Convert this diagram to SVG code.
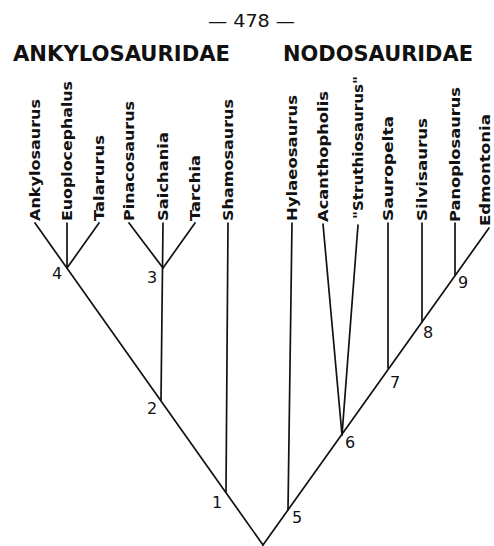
<svg xmlns="http://www.w3.org/2000/svg" width="494" height="546" viewBox="0 0 494 546">
<style>
.bg{fill:#fff}
.ln{stroke:#111;stroke-width:1.7;fill:none;stroke-linecap:round}
.tx{font-family:"DejaVu Sans",sans-serif;font-weight:bold;font-size:14px;fill:#111}
.num{font-family:"DejaVu Sans",sans-serif;font-size:16px;fill:#111;text-anchor:middle}
.hd{font-family:"DejaVu Sans",sans-serif;font-weight:bold;font-size:21px;fill:#111}
.pg{font-family:"DejaVu Sans",sans-serif;font-size:17px;fill:#111}
</style>
<rect class="bg" x="0" y="0" width="494" height="546"/>
<text class="pg" x="208" y="27" textLength="87" lengthAdjust="spacingAndGlyphs">— 478 —</text>
<g id="family-ankylosauridae"><text class="hd" x="13" y="61" textLength="217" lengthAdjust="spacingAndGlyphs">ANKYLOSAURIDAE</text></g>
<g id="family-nodosauridae"><text class="hd" x="283" y="61" textLength="190" lengthAdjust="spacingAndGlyphs">NODOSAURIDAE</text></g>

<g id="connectors">
<line class="ln" x1="263" y1="545" x2="35" y2="223"/>
<line class="ln" x1="263" y1="545" x2="489" y2="228"/>
<line class="ln" x1="67" y1="223" x2="67" y2="268"/>
<line class="ln" x1="99" y1="223" x2="67" y2="268"/>
<line class="ln" x1="129" y1="223" x2="163" y2="268"/>
<line class="ln" x1="195" y1="223" x2="163" y2="268"/>
<line class="ln" x1="163" y1="223" x2="161" y2="400"/>
<line class="ln" x1="228" y1="223" x2="226" y2="492"/>
<line class="ln" x1="292" y1="223" x2="288" y2="510"/>
<line class="ln" x1="323" y1="224" x2="342" y2="435"/>
<line class="ln" x1="358" y1="225" x2="342" y2="435"/>
<line class="ln" x1="388" y1="223" x2="388" y2="368"/>
<line class="ln" x1="422" y1="223" x2="422" y2="322"/>
<line class="ln" x1="455" y1="223" x2="455" y2="275"/>
</g>

<g id="taxon-ankylosaurus"><text class="tx" transform="translate(40,221) rotate(-90)" textLength="122" lengthAdjust="spacingAndGlyphs">Ankylosaurus</text></g>
<g id="taxon-euoplocephalus"><text class="tx" transform="translate(72,221) rotate(-90)" textLength="140" lengthAdjust="spacingAndGlyphs">Euoplocephalus</text></g>
<g id="taxon-talarurus"><text class="tx" transform="translate(104,221) rotate(-90)" textLength="86" lengthAdjust="spacingAndGlyphs">Talarurus</text></g>
<g id="taxon-pinacosaurus"><text class="tx" transform="translate(134,221) rotate(-90)" textLength="120" lengthAdjust="spacingAndGlyphs">Pinacosaurus</text></g>
<g id="taxon-saichania"><text class="tx" transform="translate(168,221) rotate(-90)" textLength="89" lengthAdjust="spacingAndGlyphs">Saichania</text></g>
<g id="taxon-tarchia"><text class="tx" transform="translate(200,221) rotate(-90)" textLength="66" lengthAdjust="spacingAndGlyphs">Tarchia</text></g>
<g id="taxon-shamosaurus"><text class="tx" transform="translate(233,221) rotate(-90)" textLength="122" lengthAdjust="spacingAndGlyphs">Shamosaurus</text></g>
<g id="taxon-hylaeosaurus"><text class="tx" transform="translate(297,221) rotate(-90)" textLength="126" lengthAdjust="spacingAndGlyphs">Hylaeosaurus</text></g>
<g id="taxon-acanthopholis"><text class="tx" transform="translate(328,222) rotate(-90)" textLength="131" lengthAdjust="spacingAndGlyphs">Acanthopholis</text></g>
<g id="taxon-struthiosaurus"><text class="tx" transform="translate(363,219) rotate(-90)" textLength="143" lengthAdjust="spacingAndGlyphs">"Struthiosaurus"</text></g>
<g id="taxon-sauropelta"><text class="tx" transform="translate(393,221) rotate(-90)" textLength="105" lengthAdjust="spacingAndGlyphs">Sauropelta</text></g>
<g id="taxon-silvisaurus"><text class="tx" transform="translate(427,221) rotate(-90)" textLength="103" lengthAdjust="spacingAndGlyphs">Silvisaurus</text></g>
<g id="taxon-panoplosaurus"><text class="tx" transform="translate(460,222) rotate(-90)" textLength="135" lengthAdjust="spacingAndGlyphs">Panoplosaurus</text></g>
<g id="taxon-edmontonia"><text class="tx" transform="translate(490,226) rotate(-90)" textLength="112" lengthAdjust="spacingAndGlyphs">Edmontonia</text></g>

<g id="node-1"><text class="num" x="217" y="508">1</text></g>
<g id="node-2"><text class="num" x="152" y="414">2</text></g>
<g id="node-3"><text class="num" x="152" y="283">3</text></g>
<g id="node-4"><text class="num" x="57" y="279">4</text></g>
<g id="node-5"><text class="num" x="297" y="523">5</text></g>
<g id="node-6"><text class="num" x="350" y="448">6</text></g>
<g id="node-7"><text class="num" x="395" y="388">7</text></g>
<g id="node-8"><text class="num" x="428" y="338">8</text></g>
<g id="node-9"><text class="num" x="463" y="288">9</text></g>
</svg>
